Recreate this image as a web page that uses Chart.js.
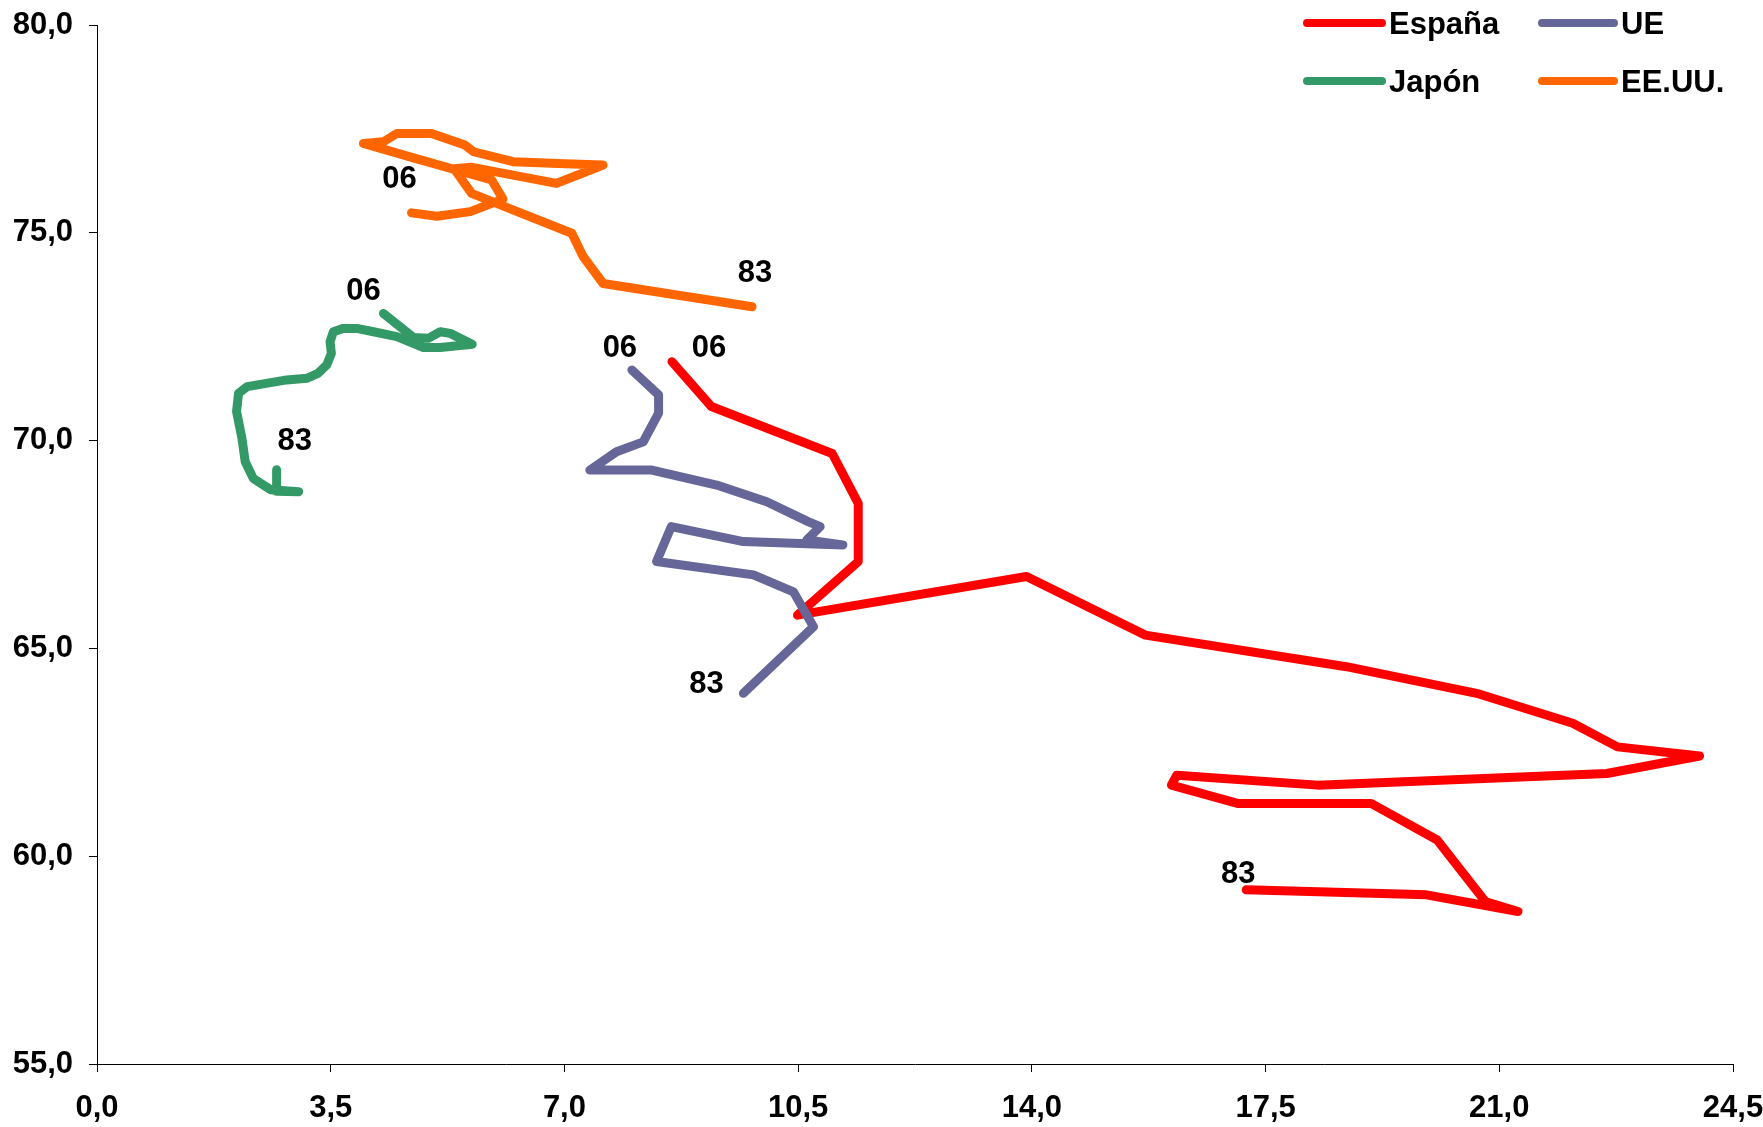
<!DOCTYPE html>
<html><head><meta charset="utf-8">
<script src="https://cdn.jsdelivr.net/npm/chart.js@4.4.0/dist/chart.umd.min.js"></script>
<style>html,body{margin:0;padding:0;background:#fff}#wrap{width:1763px;height:1127px;position:relative}</style>
</head><body><div id="wrap"><canvas id="c" width="1763" height="1127"></canvas></div>
<script>
// ---- data ----
const seriesNames = ['España', 'UE', 'Japón', 'EE.UU.'];
const startLabel = '83';
const endLabel = '06';

const esX = [17.21,19.91,21.28,20.79,20.07,19.08,17.08,16.09,16.17,18.28,22.61,24.00,22.77,22.10,20.66,18.71,15.70,13.92,10.49,11.40,11.40,11.01,9.20,8.61];
const esY = [59.19,59.07,58.67,58.91,60.39,61.27,61.27,61.71,61.95,61.71,61.99,62.41,62.63,63.20,63.92,64.56,65.32,66.73,65.80,67.09,68.49,69.69,70.82,71.90];

const ueX = [9.68,10.73,10.43,9.83,8.38,8.60,9.68,11.17,10.63,10.83,10.65,10.03,9.28,8.31,7.38,7.78,8.18,8.41,8.41,8.01];
const ueY = [63.92,65.52,66.36,66.77,67.09,67.93,67.57,67.49,67.61,67.93,68.05,68.53,68.93,69.29,69.29,69.73,69.97,70.66,71.10,71.70];

const jpX = [2.69,2.69,3.02,2.60,2.34,2.22,2.17,2.09,2.12,2.25,2.84,3.14,3.31,3.44,3.51,3.49,3.54,3.69,3.89,4.14,4.49,4.89,5.14,5.62,5.29,5.14,4.96,4.74,4.29];
const jpY = [69.30,68.78,68.77,68.82,69.09,69.49,70.06,70.70,71.14,71.30,71.46,71.50,71.62,71.82,72.10,72.38,72.62,72.70,72.70,72.62,72.50,72.24,72.24,72.32,72.58,72.62,72.46,72.48,73.06];

const usX = [9.81,7.58,7.28,7.11,6.20,5.61,5.35,5.60,6.88,7.58,6.90,6.23,5.64,5.51,5.01,4.49,4.29,3.99,4.70,5.91,6.08,5.59,5.09,4.71];
const usY = [73.22,73.78,74.43,74.99,75.57,75.95,76.54,76.58,76.19,76.63,76.67,76.71,76.95,77.11,77.39,77.39,77.19,77.15,76.82,76.27,75.81,75.51,75.40,75.48];

const xTickLabels = ['0,0','3,5','7,0','10,5','14,0','17,5','21,0','24,5'];
const yTickLabels = ['55,0','60,0','65,0','70,0','75,0','80,0'];

// ---- styling ----
const colors = ['#FF0000', '#666699', '#339966', '#FF6600'];
const drawOrder = [2, 1, 3, 4];
// pixel offsets of the "83" (start) and "06" (end) labels from the line ends
const startOffsets = [[-8,-15],[-37,-9],[18,-28],[3,-33]];
const endOffsets = [[37,-13],[-12,-21],[-20,-22],[-12,-33]];
const FONT = "'Liberation Sans', Arial, Helvetica, sans-serif";

function pts(xs, ys) { return xs.map((x, i) => ({x: x, y: ys[i]})); }
const allX = [esX, ueX, jpX, usX];
const allY = [esY, ueY, jpY, usY];

const datasets = seriesNames.map((n, i) => ({
  label: n,
  data: pts(allX[i], allY[i]),
  showLine: true,
  borderColor: colors[i],
  backgroundColor: colors[i],
  borderWidth: 9,
  borderCapStyle: 'round',
  borderJoinStyle: 'round',
  pointRadius: 0,
  pointHoverRadius: 0,
  tension: 0,
  clip: false,
  order: drawOrder[i]
}));

const endLabelsPlugin = {
  id: 'endLabels',
  afterDatasetsDraw(chart) {
    const ctx = chart.ctx, xs = chart.scales.x, ys = chart.scales.y;
    ctx.save();
    ctx.font = 'bold 31px ' + FONT;
    ctx.fillStyle = '#000';
    ctx.textAlign = 'center';
    ctx.textBaseline = 'middle';
    chart.data.datasets.forEach((ds, i) => {
      const d = ds.data;
      const f = d[0], l = d[d.length - 1];
      ctx.fillText(startLabel, xs.getPixelForValue(f.x) + startOffsets[i][0], ys.getPixelForValue(f.y) + startOffsets[i][1]);
      ctx.fillText(endLabel, xs.getPixelForValue(l.x) + endOffsets[i][0], ys.getPixelForValue(l.y) + endOffsets[i][1]);
    });
    ctx.restore();
  }
};

const legendPlugin = {
  id: 'gridLegend',
  afterDraw(chart) {
    const ctx = chart.ctx;
    const colX = [1307, 1542];
    const rowY = [23, 81];
    const lineLen = [75, 72];
    ctx.save();
    ctx.font = 'bold 31px ' + FONT;
    ctx.textBaseline = 'middle';
    ctx.textAlign = 'left';
    chart.data.datasets.forEach((ds, i) => {
      const c = i % 2, r = Math.floor(i / 2);
      const x0 = colX[c], y0 = rowY[r];
      ctx.strokeStyle = ds.borderColor;
      ctx.lineWidth = 8;
      ctx.lineCap = 'round';
      ctx.beginPath();
      ctx.moveTo(x0, y0);
      ctx.lineTo(x0 + lineLen[c], y0);
      ctx.stroke();
      ctx.fillStyle = '#000';
      ctx.fillText(ds.label, x0 + lineLen[c] + 7, y0 + 2);
    });
    ctx.restore();
  }
};

function zeroPad(s) { s.paddingTop = 0; s.paddingBottom = 0; s.paddingLeft = 0; s.paddingRight = 0; }

new Chart(document.getElementById('c'), {
  type: 'scatter',
  data: { datasets: datasets },
  options: {
    responsive: false,
    animation: false,
    events: [],
    layout: { padding: { left: 0, right: 30, top: 25, bottom: 0 } },
    plugins: { legend: { display: false }, tooltip: { enabled: false } },
    scales: {
      x: {
        type: 'linear', min: 0, max: 24.5,
        afterFit(s) { s.height = 63; zeroPad(s); },
        afterBuildTicks(s) { s.ticks = xTickLabels.map((t, i) => ({value: i * 3.5})); },
        ticks: {
          autoSkip: false, maxRotation: 0, padding: 18,
          color: '#000',
          font: { family: FONT, size: 31, weight: 'bold' },
          callback: (v, i) => xTickLabels[i]
        },
        grid: { drawOnChartArea: false, drawTicks: true, tickLength: 8, color: '#000', lineWidth: 1 },
        border: { display: true, color: '#000', width: 1 }
      },
      y: {
        type: 'linear', min: 55, max: 80,
        afterFit(s) { s.width = 97; zeroPad(s); },
        afterBuildTicks(s) { s.ticks = yTickLabels.map((t, i) => ({value: 55 + i * 5})); },
        ticks: {
          autoSkip: false, padding: 16,
          color: '#000',
          font: { family: FONT, size: 31, weight: 'bold' },
          callback: (v, i) => yTickLabels[i]
        },
        grid: { drawOnChartArea: false, drawTicks: true, tickLength: 8, color: '#000', lineWidth: 1 },
        border: { display: true, color: '#000', width: 1 }
      }
    }
  },
  plugins: [endLabelsPlugin, legendPlugin]
});
</script>
</body></html>
